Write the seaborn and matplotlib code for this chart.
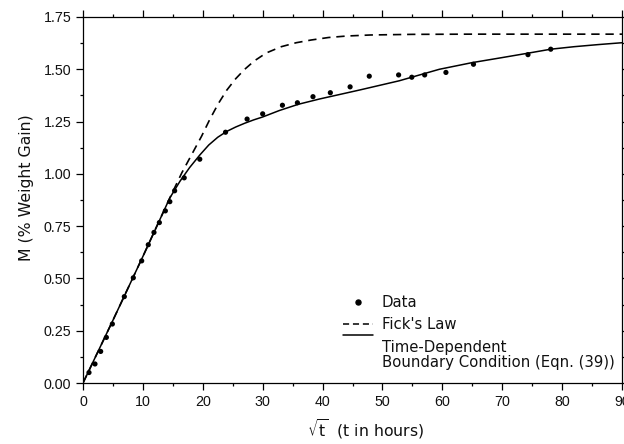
import numpy as np
import pandas as pd
import matplotlib
matplotlib.use("Agg")
import matplotlib.pyplot as plt
import seaborn as sns
from matplotlib.legend_handler import HandlerLine2D
from matplotlib.lines import Line2D
from matplotlib.ticker import MultipleLocator, FormatStrFormatter

# ---- data ----
data_x = [1.0, 2.0, 2.95, 3.9, 4.9, 6.9, 8.4, 9.8, 10.9, 11.85, 12.75, 13.75, 14.5, 15.3, 16.9,
          19.5, 23.8, 27.4, 30.0, 33.3, 35.8, 38.4, 41.3, 44.6, 47.8, 52.7, 54.9, 57.05,
          60.6, 65.2, 74.3, 78.1]
data_y = [0.050, 0.091, 0.151, 0.218, 0.282, 0.413, 0.503, 0.584, 0.661, 0.720, 0.767, 0.823,
          0.867, 0.919, 0.981, 1.070, 1.199, 1.262, 1.287, 1.328, 1.340, 1.369, 1.388, 1.416,
          1.467, 1.473, 1.462, 1.473, 1.485, 1.524, 1.570, 1.596]

fick_x = [0, 5, 10, 14.5, 16.5, 18.2, 19.8, 21.2, 22.6, 24.0, 25.5, 27.0, 28.6, 30.6, 33.1,
          35.6, 38.1, 41, 44, 48, 55, 65, 90]
fick_y = [0, 0.300, 0.605, 0.885, 1.005, 1.095, 1.180, 1.262, 1.336, 1.400, 1.455, 1.500,
          1.540, 1.578, 1.608, 1.627, 1.640, 1.652, 1.659, 1.664, 1.667, 1.668, 1.668]

tdbc_x = [0, 5, 10, 14.5, 16.2, 17.8, 19.5, 21.0, 22.5, 24.0, 25.5, 27.0, 28.5, 30.0, 32.8,
          36.0, 39.5, 46.2, 52.8, 59.5, 65, 70, 74.3, 78.1, 82, 86, 90]
tdbc_y = [0, 0.300, 0.605, 0.885, 0.965, 1.030, 1.090, 1.138, 1.175, 1.203, 1.224, 1.242,
          1.258, 1.272, 1.303, 1.333, 1.358, 1.401, 1.445, 1.500, 1.532, 1.556, 1.577, 1.596,
          1.608, 1.618, 1.627]

x_ticks = [0, 10, 20, 30, 40, 50, 60, 70, 80, 90]
y_ticks = [0.00, 0.25, 0.50, 0.75, 1.00, 1.25, 1.50, 1.75]

labels = ["Data", "Fick's Law", "Time-Dependent\nBoundary Condition (Eqn. (39))"]

# ---- style ----
sns.set_theme(style="ticks")
plt.rcParams["font.family"] = ["Liberation Sans", "DejaVu Sans"]
plt.rcParams["mathtext.fontset"] = "dejavusans"

WIDE = ["DejaVu Sans"]

fig = plt.figure(figsize=(6.24, 4.44), dpi=100)
ax = fig.add_axes([83 / 624, 61 / 444, 539 / 624, 366 / 444])

df_data = pd.DataFrame({"x": data_x, "y": data_y})
df_fick = pd.DataFrame({"x": fick_x, "y": fick_y})
df_tdbc = pd.DataFrame({"x": tdbc_x, "y": tdbc_y})

sns.lineplot(data=df_fick, x="x", y="y", ax=ax, color="black", lw=1.2,
             sort=False, estimator=None, label=None)
ax.lines[-1].set_dashes((5, 3.5))
sns.lineplot(data=df_tdbc, x="x", y="y", ax=ax, color="black", lw=1.1,
             sort=False, estimator=None, label=None)
sns.scatterplot(data=df_data, x="x", y="y", ax=ax, color="black", s=14,
                edgecolor="none", label=None, zorder=3)

ax.set_xlim(0, 90)
ax.set_ylim(0, 1.75)
ax.set_xticks(x_ticks)
ax.set_yticks(y_ticks)
ax.xaxis.set_minor_locator(MultipleLocator(5))
ax.yaxis.set_minor_locator(MultipleLocator(0.125))
ax.yaxis.set_major_formatter(FormatStrFormatter("%.2f"))
ax.tick_params(which="both", direction="out", top=True, right=True, color="black",
               labelsize=10.3, labelcolor="#111111", width=0.9)
ax.tick_params(which="major", length=5)
ax.tick_params(which="minor", length=2.5)
for sp in ax.spines.values():
    sp.set_visible(True)
    sp.set_color("black")
    sp.set_linewidth(0.9)

ax.set_xlabel(r"$\sqrt{\mathrm{t}}$  (t in hours)", fontsize=11.3, color="#111111",
              family=WIDE)
ax.set_ylabel("M (% Weight Gain)", fontsize=11.3, color="#111111", family=WIDE)
ax.xaxis.set_label_coords(0.525, -0.093)
ax.yaxis.set_label_coords(-0.09, 0.535)


class TopHandler(HandlerLine2D):
    def create_artists(self, legend, orig_handle, xdescent, ydescent, width, height,
                       fontsize, trans):
        arts = super().create_artists(legend, orig_handle, xdescent, ydescent, width,
                                      height, fontsize, trans)
        for a in arts:
            if isinstance(a, Line2D):
                a.set_ydata(np.asarray(a.get_ydata()) + 1.4 * fontsize)
        return arts


h_data = Line2D([], [], ls="none", marker="o", color="black", markersize=3.6)
h_fick = Line2D([], [], ls=(0, (4, 2.5)), color="black", lw=1.1)
h_tdbc = Line2D([], [], ls="-", color="black", lw=1.1)
leg = ax.legend([h_data, h_fick, h_tdbc], labels, loc="upper left",
                bbox_to_anchor=(343 / 624, (444 - 295) / 444),
                bbox_transform=fig.transFigure, frameon=False,
                prop={"family": WIDE, "size": 10.7},
                borderpad=0, borderaxespad=0, handlelength=2.0, handletextpad=0.62,
                labelspacing=0.5, handler_map={h_tdbc: TopHandler()})
for t in leg.get_texts():
    t.set_color("#111111")
    t.set_linespacing(1.05)

fig.savefig("out.png", dpi=100)
